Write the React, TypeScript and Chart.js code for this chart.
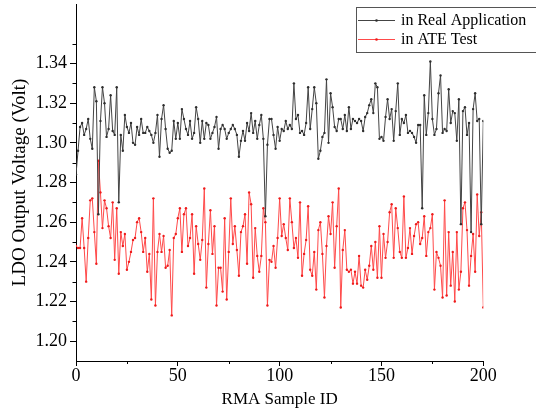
import React, { useEffect, useRef } from "react";
import { Chart, registerables } from "chart.js";

Chart.register(...registerables);

const realApplication: number[] = [
  1.284, 1.296, 1.308, 1.31, 1.304, 1.307, 1.312, 1.302, 1.297, 1.328,
  1.321, 1.264, 1.311, 1.328, 1.32, 1.303, 1.307, 1.324, 1.306, 1.304,
  1.328, 1.27, 1.304, 1.296, 1.314, 1.308, 1.305, 1.31, 1.3, 1.299,
  1.308, 1.304, 1.312, 1.305, 1.305, 1.308, 1.306, 1.304, 1.3, 1.305,
  1.314, 1.293, 1.312, 1.319, 1.307, 1.297, 1.295, 1.296, 1.311, 1.302,
  1.31, 1.302, 1.317, 1.312, 1.307, 1.304, 1.311, 1.302, 1.305, 1.318,
  1.312, 1.3, 1.311, 1.302, 1.31, 1.309, 1.302, 1.305, 1.308, 1.313,
  1.297, 1.307, 1.309, 1.307, 1.302, 1.305, 1.307, 1.309, 1.307, 1.304,
  1.293, 1.301, 1.306, 1.301, 1.31, 1.306, 1.315, 1.305, 1.311, 1.302,
  1.309, 1.314, 1.302, 1.263, 1.299, 1.312, 1.312, 1.304, 1.297, 1.308,
  1.301, 1.307, 1.306, 1.311, 1.307, 1.309, 1.307, 1.33, 1.312, 1.314,
  1.305, 1.306, 1.304, 1.31, 1.328, 1.307, 1.317, 1.328, 1.32, 1.292,
  1.296, 1.303, 1.305, 1.332, 1.3, 1.325, 1.318, 1.308, 1.306, 1.312,
  1.312, 1.307, 1.314, 1.306, 1.318, 1.307, 1.312, 1.311, 1.31, 1.312,
  1.311, 1.306, 1.313, 1.315, 1.319, 1.322, 1.315, 1.33, 1.328, 1.302,
  1.303, 1.301, 1.313, 1.322, 1.312, 1.317, 1.301, 1.316, 1.33, 1.304,
  1.312, 1.31, 1.314, 1.305, 1.306, 1.305, 1.303, 1.3, 1.309, 1.309,
  1.267, 1.324, 1.304, 1.315, 1.341, 1.312, 1.304, 1.307, 1.325, 1.334,
  1.305, 1.307, 1.306, 1.327, 1.31, 1.316, 1.315, 1.301, 1.322, 1.259,
  1.316, 1.318, 1.304, 1.31, 1.255, 1.317, 1.325, 1.311, 1.312, 1.259,
  1.311,
];

const ateTest: number[] = [
  1.248, 1.247, 1.247, 1.262, 1.247, 1.23, 1.252, 1.271, 1.272, 1.255,
  1.239, 1.291, 1.275, 1.257, 1.271, 1.267, 1.258, 1.252, 1.27, 1.241,
  1.267, 1.234, 1.255, 1.248, 1.254, 1.236, 1.24, 1.245, 1.251, 1.252,
  1.26, 1.262, 1.255, 1.245, 1.252, 1.235, 1.244, 1.221, 1.272, 1.218,
  1.245, 1.254, 1.245, 1.253, 1.237, 1.238, 1.246, 1.213, 1.252, 1.254,
  1.262, 1.267, 1.245, 1.264, 1.267, 1.248, 1.252, 1.264, 1.234, 1.258,
  1.249, 1.241, 1.251, 1.277, 1.227, 1.249, 1.266, 1.244, 1.258, 1.218,
  1.237, 1.237, 1.225, 1.262, 1.221, 1.245, 1.272, 1.249, 1.258, 1.246,
  1.233, 1.255, 1.258, 1.264, 1.239, 1.275, 1.269, 1.232, 1.257, 1.243,
  1.235, 1.243, 1.267, 1.26, 1.218, 1.241, 1.24, 1.248, 1.237, 1.252,
  1.272, 1.253, 1.259, 1.252, 1.246, 1.272, 1.26, 1.247, 1.252, 1.242,
  1.27, 1.233, 1.244, 1.251, 1.268, 1.236, 1.233, 1.245, 1.226, 1.256,
  1.26, 1.244, 1.222, 1.248, 1.263, 1.254, 1.27, 1.237, 1.258, 1.277,
  1.217, 1.246, 1.256, 1.236, 1.235, 1.236, 1.229, 1.235, 1.229, 1.243,
  1.228, 1.227, 1.236, 1.231, 1.238, 1.248, 1.236, 1.25, 1.232, 1.258,
  1.232, 1.254, 1.242, 1.25, 1.265, 1.269, 1.242, 1.267, 1.257, 1.245,
  1.242, 1.273, 1.242, 1.247, 1.257, 1.244, 1.253, 1.259, 1.26, 1.249,
  1.252, 1.263, 1.243, 1.255, 1.257, 1.264, 1.226, 1.245, 1.242, 1.238,
  1.222, 1.271, 1.223, 1.255, 1.228, 1.245, 1.22, 1.255, 1.226, 1.235,
  1.267, 1.27, 1.256, 1.228, 1.243, 1.254, 1.235, 1.274, 1.253, 1.265,
  1.217,
];

const sampleIds: number[] = realApplication.map((_, i) => i);

const yMajorTicks: number[] = [1.2, 1.22, 1.24, 1.26, 1.28, 1.3, 1.32, 1.34];
const yMinorTicks: number[] = [1.19, 1.21, 1.23, 1.25, 1.27, 1.29, 1.31, 1.33, 1.35];
const xMajorTicks: number[] = [0, 50, 100, 150, 200];
const xMinorTicks: number[] = [25, 75, 125, 175];

const seriesNames: string[] = ["in Real Application", "in ATE Test"];

const FONT = "'Liberation Serif', 'Times New Roman', serif";
const BLACK_LINE = "#444444";
const BLACK_PT = "#2e2e2e";
const RED_LINE = "#ff4a4a";
const RED_PT = "#ee1c1c";

const minorTickPlugin = {
  id: "minorTicks",
  afterDraw(chart: any) {
    const ctx = chart.ctx;
    const xs = chart.scales.x;
    const ys = chart.scales.y;
    const area = chart.chartArea;
    ctx.save();
    ctx.strokeStyle = "#000";
    ctx.lineWidth = 1;
    ctx.beginPath();
    yMinorTicks.forEach((v) => {
      const p = Math.round(ys.getPixelForValue(v)) + 0.5;
      if (p < area.top || p > area.bottom) return;
      ctx.moveTo(area.left - 3.5, p);
      ctx.lineTo(area.left, p);
    });
    xMinorTicks.forEach((v) => {
      const p = Math.round(xs.getPixelForValue(v)) + 0.5;
      ctx.moveTo(p, area.bottom);
      ctx.lineTo(p, area.bottom + 3);
    });
    ctx.stroke();
    ctx.restore();
  },
};

const legendPlugin = {
  id: "boxLegend",
  afterDraw(chart: any) {
    const ctx = chart.ctx;
    ctx.save();
    const bx = 356.5;
    const by = 7.5;
    const bw = 190;
    const bh = 45;
    ctx.fillStyle = "#ffffff";
    ctx.fillRect(bx, by, bw, bh);
    ctx.strokeStyle = "#555555";
    ctx.lineWidth = 1;
    ctx.strokeRect(bx, by, bw, bh);
    const rows = [
      { y: 20.5, line: BLACK_LINE, pt: BLACK_PT, text: seriesNames[0] },
      { y: 39.5, line: RED_LINE, pt: RED_PT, text: seriesNames[1] },
    ];
    rows.forEach((r) => {
      ctx.strokeStyle = r.line;
      ctx.beginPath();
      ctx.moveTo(358, r.y);
      ctx.lineTo(395, r.y);
      ctx.stroke();
      ctx.fillStyle = r.pt;
      ctx.beginPath();
      ctx.arc(376.5, r.y, 1.3, 0, Math.PI * 2);
      ctx.fill();
      ctx.fillStyle = "#000";
      ctx.font = `16px ${FONT}`;
      ctx.textBaseline = "middle";
      ctx.textAlign = "left";
      ctx.fillText(r.text, 401, r.y + 0.5);
    });
    ctx.restore();
  },
};

export default function App() {
  const canvasRef = useRef<HTMLCanvasElement | null>(null);

  useEffect(() => {
    const canvas = canvasRef.current;
    if (!canvas) return;
    const chart = new Chart(canvas, {
      type: "line",
      data: {
        datasets: [
          {
            label: seriesNames[0],
            data: sampleIds.map((x, i) => ({ x, y: realApplication[i] })),
            borderColor: BLACK_LINE,
            backgroundColor: BLACK_PT,
            pointBackgroundColor: BLACK_PT,
            pointBorderColor: BLACK_PT,
            borderWidth: 1,
            pointRadius: 1.2,
            pointBorderWidth: 0,
            tension: 0,
          },
          {
            label: seriesNames[1],
            data: sampleIds.map((x, i) => ({ x, y: ateTest[i] })),
            borderColor: RED_LINE,
            backgroundColor: RED_PT,
            pointBackgroundColor: RED_PT,
            pointBorderColor: RED_PT,
            borderWidth: 1,
            pointRadius: 1.2,
            pointBorderWidth: 0,
            tension: 0,
          },
        ],
      },
      options: {
        responsive: false,
        animation: false,
        layout: { padding: { left: 0, right: 52.7, top: 0, bottom: 0 } },
        plugins: {
          legend: { display: false },
          tooltip: { enabled: false },
        },
        scales: {
          x: {
            type: "linear",
            min: 0,
            max: 200,
            afterBuildTicks: (scale: any) => {
              scale.ticks = xMajorTicks.map((v) => ({ value: v }));
            },
            afterFit: (scale: any) => {
              scale.height = 58;
            },
            ticks: {
              color: "#000",
              font: { family: FONT, size: 18 },
              padding: -1,
              maxRotation: 0,
              autoSkip: false,
              callback: (v: any) => String(v),
            },
            grid: {
              drawOnChartArea: false,
              drawTicks: true,
              tickLength: 5,
              tickColor: "#000",
              color: "#000",
            },
            border: { display: true, color: "#000", width: 1 },
            title: {
              display: true,
              text: "RMA Sample ID",
              color: "#000",
              font: { family: FONT, size: 17 },
              padding: { top: 0, bottom: 9 },
            },
          },
          y: {
            type: "linear",
            min: 1.19,
            max: 1.37,
            afterBuildTicks: (scale: any) => {
              scale.ticks = yMajorTicks.map((v) => ({ value: v }));
            },
            afterFit: (scale: any) => {
              scale.width = 76;
              scale.paddingTop = 0;
              scale.paddingBottom = 0;
            },
            ticks: {
              color: "#000",
              font: { family: FONT, size: 18 },
              padding: 3,
              autoSkip: false,
              callback: (v: any) => Number(v).toFixed(2),
            },
            grid: {
              drawOnChartArea: false,
              drawTicks: true,
              tickLength: 6,
              tickColor: "#000",
              color: "#000",
            },
            border: { display: true, color: "#000", width: 1 },
            title: {
              display: true,
              text: "LDO Output Voltage (Volt)",
              color: "#000",
              font: { family: FONT, size: 19 },
              padding: { top: 9, bottom: 0 },
            },
          },
        },
      },
      plugins: [minorTickPlugin, legendPlugin],
    } as any);
    return () => chart.destroy();
  }, []);

  return (
    <div style={{ position: "absolute", left: 0, top: 0, width: 536, height: 419, background: "#fff" }}>
      <canvas ref={canvasRef} width={536} height={419} style={{ display: "block" }} />
    </div>
  );
}
